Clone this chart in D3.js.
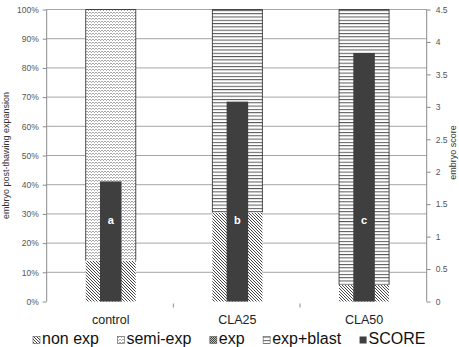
<!DOCTYPE html>
<html>
<head>
<meta charset="utf-8">
<script src="https://cdn.jsdelivr.net/npm/d3@7"></script>
<style>
  body { margin: 0; background: #fff; }
  svg { display: block; font-family: "Liberation Sans", Arial, sans-serif; }
</style>
</head>
<body>
<script>
// chart data
const categories = ["control", "CLA25", "CLA50"];
const nonExp   = [14, 30.5, 5.7];
const semiExp  = [86, 0, 0];
const expd     = [0, 0, 0];
const expBlast = [0, 69.5, 94.3];
const score    = [1.85, 3.08, 3.83];
const letters  = ["a", "b", "c"];
const pctTicks = [0, 10, 20, 30, 40, 50, 60, 70, 80, 90, 100];
const scoreTicks = [0, 0.5, 1, 1.5, 2, 2.5, 3, 3.5, 4, 4.5];
const seriesKeys = ["nonExp", "semiExp", "exp", "expBlast"];
const legendNames = ["non exp", "semi-exp", "exp", "exp+blast", "SCORE"];

let chartW = 459, chartH = 347;
let plotL = 46.7, plotR = 426.7, plotT = 9.5, plotB = 301.5;

let svg = d3.select("body").append("svg")
  .attr("width", chartW)
  .attr("height", chartH);

// patterns
let defs = svg.append("defs");

let pNon = defs.append("pattern").attr("id", "p-nonExp")
  .attr("patternUnits", "userSpaceOnUse").attr("width", 3).attr("height", 3);
pNon.append("rect").attr("width", 3).attr("height", 3).attr("fill", "#fff");
pNon.append("path").attr("d", "M0,0 L3,3 M-1,2 L1,4 M2,-1 L4,1")
  .attr("stroke", "#333").attr("stroke-width", 0.9);

let pSemi = defs.append("pattern").attr("id", "p-semiExp")
  .attr("patternUnits", "userSpaceOnUse").attr("width", 3).attr("height", 3);
pSemi.append("rect").attr("width", 3).attr("height", 3).attr("fill", "#fff");
[[0, 0], [1, 1], [2, 0]].forEach(function(d){
  pSemi.append("rect").attr("x", d[0]).attr("y", d[1]).attr("width", 1).attr("height", 1).attr("fill", "#a8a8a8");
});

let pExp = defs.append("pattern").attr("id", "p-exp")
  .attr("patternUnits", "userSpaceOnUse").attr("width", 2).attr("height", 2);
pExp.append("rect").attr("width", 2).attr("height", 2).attr("fill", "#bbb");
pExp.append("rect").attr("width", 1).attr("height", 1).attr("fill", "#444");
pExp.append("rect").attr("x", 1).attr("y", 1).attr("width", 1).attr("height", 1).attr("fill", "#444");

let pBlast = defs.append("pattern").attr("id", "p-expBlast")
  .attr("patternUnits", "userSpaceOnUse").attr("width", 4).attr("height", 3.3);
pBlast.append("rect").attr("width", 4).attr("height", 3.3).attr("fill", "#fff");
pBlast.append("rect").attr("y", 0).attr("width", 4).attr("height", 1).attr("fill", "#555");

// scales
let x = d3.scaleBand().domain(categories).range([plotL, plotR]).padding(0);
let yPct = d3.scaleLinear().domain([0, 100]).range([plotB, plotT]);
let yScore = d3.scaleLinear().domain([0, 4.5]).range([plotB, plotT]);

// gridlines
svg.append("g")
  .selectAll("line")
  .data(pctTicks.slice(1))
  .enter().append("line")
  .attr("x1", plotL).attr("x2", plotR)
  .attr("y1", d => yPct(d)).attr("y2", d => yPct(d))
  .attr("stroke", "#a6a6a6").attr("stroke-width", 1);

// stacked bars
let rows = categories.map(function(c, i){
  return { cat: c, nonExp: nonExp[i], semiExp: semiExp[i], exp: expd[i], expBlast: expBlast[i] };
});
let stack = d3.stack().keys(seriesKeys)(rows);

let barW = x.bandwidth() * 0.395;
let scoreW = x.bandwidth() * 0.17;
let barX = d => x(d.data.cat) + x.bandwidth() / 2 - barW / 2 + 0.7;

svg.append("g").selectAll("g")
  .data(stack)
  .enter().append("g")
  .attr("fill", d => "url(#p-" + d.key + ")")
  .selectAll("rect")
  .data(d => d.filter(v => v[1] - v[0] > 0))
  .enter().append("rect")
  .attr("x", barX)
  .attr("y", d => yPct(d[1]))
  .attr("width", barW)
  .attr("height", d => yPct(d[0]) - yPct(d[1]));

// dark outline on sides and top of the upper segments
svg.append("g").selectAll("path")
  .data(stack.filter(s => s.key == "semiExp" || s.key == "expBlast"))
  .enter().append("g")
  .selectAll("path")
  .data(d => d.filter(v => v[1] - v[0] > 0))
  .enter().append("path")
  .attr("d", d => "M" + barX(d) + "," + yPct(d[0]) + "V" + yPct(d[1]) +
    "H" + (barX(d) + barW) + "V" + yPct(d[0]))
  .attr("fill", "none")
  .attr("stroke", "#222")
  .attr("stroke-width", 0.8);

// score bars
svg.append("g").selectAll("rect")
  .data(score)
  .enter().append("rect")
  .attr("x", (d, i) => x(categories[i]) + x.bandwidth() / 2 - scoreW / 2 + 0.7)
  .attr("y", d => yScore(d))
  .attr("width", scoreW)
  .attr("height", d => plotB - yScore(d))
  .attr("fill", "#3f3f3f");

svg.append("g").selectAll("text")
  .data(letters)
  .enter().append("text")
  .attr("x", (d, i) => x(categories[i]) + x.bandwidth() / 2 + 0.7)
  .attr("y", yScore(1.25))
  .attr("dy", "0.35em")
  .attr("text-anchor", "middle")
  .attr("fill", "#fff")
  .style("font-size", "11px")
  .style("font-weight", "bold")
  .text(d => d);

// axes
let axL = svg.append("g")
  .attr("transform", "translate(" + plotL + ",0)")
  .call(d3.axisLeft(yPct).tickValues(pctTicks).tickSize(4).tickPadding(4)
    .tickFormat(d => d + "%"));
let axR = svg.append("g")
  .attr("transform", "translate(" + plotR + ",0)")
  .call(d3.axisRight(yScore).tickValues(scoreTicks).tickSize(4).tickPadding(5)
    .tickFormat(d3.format("~g")));
[axL, axR].forEach(function(a){
  a.select(".domain").attr("stroke", "#8c8c8c").attr("d", "M0," + plotT + "V" + plotB);
  a.selectAll(".tick line").attr("stroke", "#8c8c8c");
  a.selectAll(".tick text").attr("fill", "#555").style("font-size", "8.5px")
    .style("font-family", "'Liberation Sans', Arial, sans-serif");
});

// category ticks and labels
svg.append("g").selectAll("line")
  .data(categories.slice(1))
  .enter().append("line")
  .attr("x1", d => x(d)).attr("x2", d => x(d))
  .attr("y1", plotB + 2).attr("y2", plotB + 6)
  .attr("stroke", "#8c8c8c");

svg.append("g").selectAll("text")
  .data(categories)
  .enter().append("text")
  .attr("x", d => x(d) + x.bandwidth() / 2 + 0.7)
  .attr("y", 324)
  .attr("text-anchor", "middle")
  .attr("fill", "#222")
  .style("font-size", "12.5px")
  .text(d => d);

// axis titles
svg.append("text")
  .attr("transform", "translate(9," + ((plotT + plotB) / 2) + ") rotate(-90)")
  .attr("text-anchor", "middle")
  .attr("fill", "#333")
  .style("font-size", "9px")
  .text("embryo post-thawing expansion");

svg.append("text")
  .attr("transform", "translate(456," + ((plotT + plotB) / 2 - 3) + ") rotate(-90)")
  .attr("text-anchor", "middle")
  .attr("fill", "#333")
  .style("font-size", "9px")
  .text("embryo score");

// legend
let legendFills = ["url(#p-nonExp)", "url(#p-semiExp)", "url(#p-exp)", "url(#p-expBlast)", "#3f3f3f"];
let lx = 33;
legendNames.forEach(function(name, i){
  svg.append("rect")
    .attr("x", lx).attr("y", 336.5)
    .attr("width", 7).attr("height", 7)
    .attr("fill", legendFills[i])
    .attr("stroke", i < 4 ? "#555" : "none")
    .attr("stroke-width", 0.6);
  let t = svg.append("text")
    .attr("x", lx + 9).attr("y", 343.5)
    .attr("fill", "#111")
    .style("font-size", "16px")
    .text(name);
  lx += 9 + t.node().getComputedTextLength() + 18.5;
});
</script>
</body>
</html>
